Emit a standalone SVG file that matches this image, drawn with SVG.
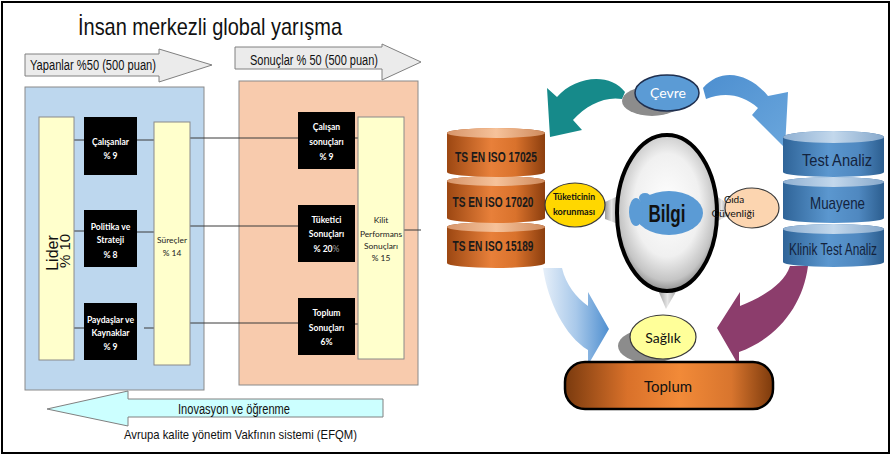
<svg xmlns="http://www.w3.org/2000/svg" width="892" height="457" viewBox="0 0 892 457">
  <style>
    .panel { stroke: #8a8a8a; stroke-width: 1; }
    .col { fill: #ffffcc; stroke: #8a8a8a; stroke-width: 1; }
    .blk { fill: #000; }
    .wt { fill: #fff; font-family: Lato, "Noto Sans", sans-serif; font-weight: bold; font-size: 8.6px; text-anchor: middle; }
    .dk { fill: #222; font-family: Lato, "Noto Sans", sans-serif; font-size: 8.4px; text-anchor: middle; }
    .arw { fill: #ebebeb; stroke: #808080; stroke-width: 1; }
    .ar { font-family: "Liberation Sans", Arial, sans-serif; fill: #111; }
    .conn line { stroke: #3a3a3a; stroke-width: 1; }
    .cyl-o-t { font-family: "Liberation Sans", Arial, sans-serif; font-weight: bold; font-size: 14px; fill: #1a1a1a; text-anchor: middle; }
    .cyl-b-t { font-family: "Liberation Sans", Arial, sans-serif; font-size: 17px; fill: #13233d; text-anchor: middle; }
    .cal { font-family: Lato, "Noto Sans", sans-serif; text-anchor: middle; }
  </style>
  <defs>
    <linearGradient id="gOrange" x1="0" y1="0" x2="1" y2="0">
      <stop offset="0" stop-color="#9c4712"/>
      <stop offset="0.45" stop-color="#e8803a"/>
      <stop offset="0.7" stop-color="#d9722c"/>
      <stop offset="1" stop-color="#8c3e0e"/>
    </linearGradient>
    <linearGradient id="gOrangeTop" x1="0" y1="0" x2="1" y2="0">
      <stop offset="0" stop-color="#d7956a"/>
      <stop offset="0.5" stop-color="#f6c29a"/>
      <stop offset="1" stop-color="#cf8a5c"/>
    </linearGradient>
    <linearGradient id="gBlue" x1="0" y1="0" x2="1" y2="0">
      <stop offset="0" stop-color="#2f6498"/>
      <stop offset="0.45" stop-color="#5b97cf"/>
      <stop offset="0.75" stop-color="#4f88c0"/>
      <stop offset="1" stop-color="#2c5e8f"/>
    </linearGradient>
    <linearGradient id="gBlueTop" x1="0" y1="0" x2="1" y2="0">
      <stop offset="0" stop-color="#8fb0d2"/>
      <stop offset="0.5" stop-color="#c3d8ec"/>
      <stop offset="1" stop-color="#86a8cb"/>
    </linearGradient>
    <linearGradient id="gToplum" x1="0" y1="0" x2="1" y2="0">
      <stop offset="0" stop-color="#7a3a0e"/>
      <stop offset="0.3" stop-color="#d9712a"/>
      <stop offset="0.55" stop-color="#f28a38"/>
      <stop offset="0.8" stop-color="#d8752e"/>
      <stop offset="1" stop-color="#7c3a0c"/>
    </linearGradient>
    <radialGradient id="gLens" cx="0.5" cy="0.45" r="0.55">
      <stop offset="0" stop-color="#ffffff"/>
      <stop offset="0.6" stop-color="#f0f0f0"/>
      <stop offset="0.88" stop-color="#c4c4c4"/>
      <stop offset="1" stop-color="#8f8f8f"/>
    </radialGradient>
    <linearGradient id="gPointer" x1="0" y1="0" x2="1" y2="0">
      <stop offset="0" stop-color="#9a9a9a"/>
      <stop offset="0.5" stop-color="#e6e6e6"/>
      <stop offset="1" stop-color="#a5a5a5"/>
    </linearGradient>
    <linearGradient id="gLightArrow" x1="0" y1="0" x2="1" y2="0">
      <stop offset="0" stop-color="#e6eff9"/>
      <stop offset="0.5" stop-color="#a9c9ea"/>
      <stop offset="1" stop-color="#4f8fd0"/>
    </linearGradient>
    <linearGradient id="gSkyArrow" x1="0" y1="0" x2="1" y2="1">
      <stop offset="0" stop-color="#4d8fd0"/>
      <stop offset="1" stop-color="#6aa6dc"/>
    </linearGradient>
  </defs>

  <rect width="892" height="457" fill="#ffffff"/>
  <rect x="2" y="2" width="887" height="451" fill="none" stroke="#000" stroke-width="2"/>

  <!-- EFQM model -->
  <text class="ar" x="78" y="35" font-size="24" textLength="264" lengthAdjust="spacingAndGlyphs">İnsan merkezli global yarışma</text>

  <g id="arrow-yapanlar">
    <polygon class="arw" points="25,54 159,54 159,49 212,65 159,82 159,76 25,76"/>
    <text class="ar" x="30" y="70" font-size="14" textLength="126" lengthAdjust="spacingAndGlyphs">Yapanlar %50 (500 puan)</text>
  </g>
  <g id="arrow-sonuclar">
    <polygon class="arw" points="235,47 382,47 382,44 421,62 382,80 382,69 235,69"/>
    <text class="ar" x="250" y="65" font-size="14" textLength="128" lengthAdjust="spacingAndGlyphs">Sonuçlar % 50 (500 puan)</text>
  </g>

  <g id="panel-enablers">
    <rect class="panel" x="25" y="87" width="179" height="303" fill="#bdd7ee"/>
  </g>
  <g id="panel-results">
    <rect class="panel" x="239" y="81" width="179" height="304" fill="#f8cbad"/>
  </g>

  <g class="conn" id="connectors">
    <line x1="74" y1="140" x2="84" y2="140"/>
    <line x1="137" y1="140" x2="154" y2="140"/>
    <line x1="74" y1="231" x2="84" y2="231"/>
    <line x1="137" y1="232" x2="154" y2="232"/>
    <line x1="74" y1="328" x2="84" y2="328"/>
    <line x1="144" y1="328" x2="154" y2="328"/>
    <line x1="190" y1="138" x2="298" y2="138"/>
    <line x1="190" y1="226" x2="298" y2="226"/>
    <line x1="190" y1="323" x2="298" y2="323"/>
    <line x1="355" y1="138" x2="370" y2="138"/>
    <line x1="355" y1="324" x2="370" y2="324"/>
    <line x1="404" y1="230" x2="421" y2="230"/>
  </g>

  <g id="lider">
    <rect class="col" x="39" y="117" width="35" height="243"/>
    <text class="ar" transform="translate(58,253) rotate(-90)" font-size="16" text-anchor="middle">Lider</text>
    <text class="ar" transform="translate(70,251) rotate(-90)" font-size="15" text-anchor="middle">% 10</text>
  </g>

  <g id="calisanlar">
    <rect class="blk" x="84" y="117" width="53" height="58"/>
    <text class="wt" x="110.5" y="145">Çalışanlar</text>
    <text class="wt" x="110.5" y="159">% 9</text>
  </g>
  <g id="politika">
    <rect class="blk" x="84" y="210" width="53" height="57"/>
    <text class="wt" x="110.5" y="230">Politika ve</text>
    <text class="wt" x="110.5" y="243">Strateji</text>
    <text class="wt" x="110.5" y="258">% 8</text>
  </g>
  <g id="paydaslar">
    <rect class="blk" x="84" y="303" width="53" height="57"/>
    <text class="wt" x="110.5" y="323">Paydaşlar ve</text>
    <text class="wt" x="110.5" y="336">Kaynaklar</text>
    <text class="wt" x="110.5" y="350">% 9</text>
  </g>

  <g id="surecler">
    <rect class="col" x="154" y="122" width="36" height="243"/>
    <text class="dk" x="172" y="243">Süreçler</text>
    <text class="dk" x="172" y="256">% 14</text>
  </g>

  <g id="calisan-sonuclari">
    <rect class="blk" x="298" y="112" width="57" height="57"/>
    <text class="wt" x="326.5" y="130">Çalışan</text>
    <text class="wt" x="326.5" y="145">sonuçları</text>
    <text class="wt" x="326.5" y="160">% 9</text>
  </g>
  <g id="tuketici-sonuclari">
    <rect class="blk" x="298" y="205" width="57" height="57"/>
    <text class="wt" x="326.5" y="223">Tüketici</text>
    <text class="wt" x="326.5" y="237">Sonuçları</text>
    <text class="wt" x="326.5" y="252">% 20<tspan fill="#9a9a9a" font-weight="normal">%</tspan></text>
  </g>
  <g id="toplum-sonuclari">
    <rect class="blk" x="298" y="298" width="57" height="57"/>
    <text class="wt" x="326.5" y="316">Toplum</text>
    <text class="wt" x="326.5" y="331">Sonuçları</text>
    <text class="wt" x="326.5" y="345">6%</text>
  </g>

  <g id="kilit">
    <rect class="col" x="358" y="117" width="46" height="242"/>
    <text class="dk" x="381" y="223">Kilit</text>
    <text class="dk" x="381" y="237">Performans</text>
    <text class="dk" x="381" y="249">Sonuçları</text>
    <text class="dk" x="381" y="261">% 15</text>
  </g>

  <g id="arrow-inovasyon">
    <polygon points="383,399 128,399 128,391 47,409 128,426 128,417 383,417" fill="#ccffff" stroke="#808080" stroke-width="1"/>
    <text class="ar" x="178" y="414" font-size="14" textLength="112" lengthAdjust="spacingAndGlyphs">Inovasyon ve öğrenme</text>
  </g>
  <text class="ar" x="124" y="439" font-size="13" textLength="233" lengthAdjust="spacingAndGlyphs">Avrupa kalite yönetim Vakfının  sistemi (EFQM)</text>

  <!-- Knowledge cycle -->
  <g id="flow-arrows">
    <path d="M625,92 C610,72 575,76 557,97 L547,88 L550,137 L582,130 L573,120 C586,105 605,96 622,99 Z" fill="#168a8a"/>
    <path d="M703,88 C722,66 750,74 768,96 L788,92 L785,148 L752,115 L758,108 C742,94 724,92 706,99 Z" fill="url(#gSkyArrow)"/>
    <path d="M543,268 C548,302 565,336 588,350 L588,365 L609,329 L588,292 L588,306 C576,297 566,285 562,268 Z" fill="url(#gLightArrow)"/>
    <path d="M808,266 C803,305 778,338 739,352 L739,366 L717,328 L740,292 L740,306 C760,298 784,285 790,266 Z" fill="#8c3d6c"/>
  </g>

  <g id="iso-stack">
    <path d="M447,227 A49,5 0 0 1 545,227 L545,263 A49,5 0 0 1 447,263 Z" fill="url(#gOrange)"/>
    <ellipse cx="496" cy="227" rx="49" ry="5" fill="url(#gOrangeTop)"/>
    <path d="M447,181 A49,5 0 0 1 545,181 L545,218 A49,5 0 0 1 447,218 Z" fill="url(#gOrange)"/>
    <ellipse cx="496" cy="181" rx="49" ry="5" fill="url(#gOrangeTop)"/>
    <path d="M447,133 A49,5 0 0 1 545,133 L545,172 A49,5 0 0 1 447,172 Z" fill="url(#gOrange)"/>
    <ellipse cx="496" cy="133" rx="49" ry="5" fill="url(#gOrangeTop)"/>
    <text class="cyl-o-t" x="496" y="162" textLength="82" lengthAdjust="spacingAndGlyphs">TS EN ISO 17025</text>
    <text class="cyl-o-t" x="493" y="207" textLength="81" lengthAdjust="spacingAndGlyphs">TS EN ISO 17020</text>
    <text class="cyl-o-t" x="493" y="251" textLength="81" lengthAdjust="spacingAndGlyphs">TS EN ISO 15189</text>
  </g>

  <g id="test-stack">
    <path d="M783,229 A50.5,5 0 0 1 884,229 L884,262 A50.5,5 0 0 1 783,262 Z" fill="url(#gBlue)"/>
    <ellipse cx="833.5" cy="229" rx="50.5" ry="5" fill="url(#gBlueTop)"/>
    <path d="M783,182 A50.5,5 0 0 1 884,182 L884,218 A50.5,5 0 0 1 783,218 Z" fill="url(#gBlue)"/>
    <ellipse cx="833.5" cy="182" rx="50.5" ry="5" fill="url(#gBlueTop)"/>
    <path d="M783,137 A50.5,6 0 0 1 884,137 L884,172 A50.5,5 0 0 1 783,172 Z" fill="url(#gBlue)"/>
    <ellipse cx="833.5" cy="137" rx="50.5" ry="6" fill="url(#gBlueTop)"/>
    <text class="cyl-b-t" x="837" y="166" textLength="70" lengthAdjust="spacingAndGlyphs">Test Analiz</text>
    <text class="cyl-b-t" x="837.5" y="209" textLength="55" lengthAdjust="spacingAndGlyphs">Muayene</text>
    <text class="cyl-b-t" x="833" y="255" textLength="88" lengthAdjust="spacingAndGlyphs">Klinik Test Analiz</text>
  </g>

  <g id="bilgi">
    <polygon points="605,202 618,196 618,224 605,219" fill="url(#gPointer)"/>
    <polygon points="716,196 727,203 727,216 716,222" fill="url(#gPointer)"/>
    <polygon points="658,290 677,290 666,309" fill="url(#gPointer)"/>
    <ellipse cx="667" cy="213" rx="50" ry="78" fill="url(#gLens)" stroke="#000" stroke-width="4"/>
    <ellipse cx="669" cy="213" rx="34" ry="22" fill="#5b9bd5"/>
    <ellipse cx="636" cy="212" rx="7" ry="14" fill="#5b9bd5"/>
    <ellipse cx="645" cy="198" rx="6" ry="5" fill="#5b9bd5"/>
    <text class="ar" x="667" y="222" font-size="23" font-weight="bold" fill="#13233d" text-anchor="middle" textLength="37" lengthAdjust="spacingAndGlyphs">Bilgi</text>
  </g>

  <g id="cevre">
    <ellipse cx="652" cy="101" rx="30" ry="15" fill="#8c8c8c"/>
    <ellipse cx="667" cy="93" rx="32" ry="18" fill="#5b9bd5" stroke="#1f2f4f" stroke-width="1.5"/>
    <text class="cal" x="668" y="98" font-size="14" fill="#fff">Çevre</text>
  </g>

  <g id="tuketicinin">
    <ellipse cx="575" cy="205" rx="30" ry="22" fill="#ffd700" stroke="#3a3a3a" stroke-width="1.2"/>
    <text class="cal" x="574" y="200" font-size="10" font-weight="bold" fill="#111" textLength="42" lengthAdjust="spacingAndGlyphs">Tüketicinin</text>
    <text class="cal" x="574" y="215" font-size="10" font-weight="bold" fill="#111" textLength="42" lengthAdjust="spacingAndGlyphs">korunması</text>
  </g>

  <g id="gida">
    <ellipse cx="752" cy="208" rx="27" ry="20" fill="#fcd5b0" stroke="#3a3a3a" stroke-width="1.2"/>
    <text class="cal" x="734" y="203" font-size="10" fill="#111" text-anchor="start">Gıda</text>
    <text class="cal" x="733" y="217" font-size="10" fill="#111" text-anchor="start" textLength="43" lengthAdjust="spacingAndGlyphs">Güvenliği</text>
  </g>

  <g id="saglik">
    <ellipse cx="650" cy="346" rx="32" ry="17" fill="#8c8c8c"/>
    <ellipse cx="663" cy="337" rx="33" ry="22" fill="#ffff99" stroke="#3a3a3a" stroke-width="1.2"/>
    <text class="cal" x="663" y="343" font-size="14" fill="#111">Sağlık</text>
  </g>

  <g id="toplum">
    <rect x="565" y="362" width="208" height="47" rx="20" ry="20" fill="url(#gToplum)" stroke="#000" stroke-width="2.5"/>
    <text class="cal" x="668" y="392" font-size="15" fill="#111">Toplum</text>
  </g>
</svg>
